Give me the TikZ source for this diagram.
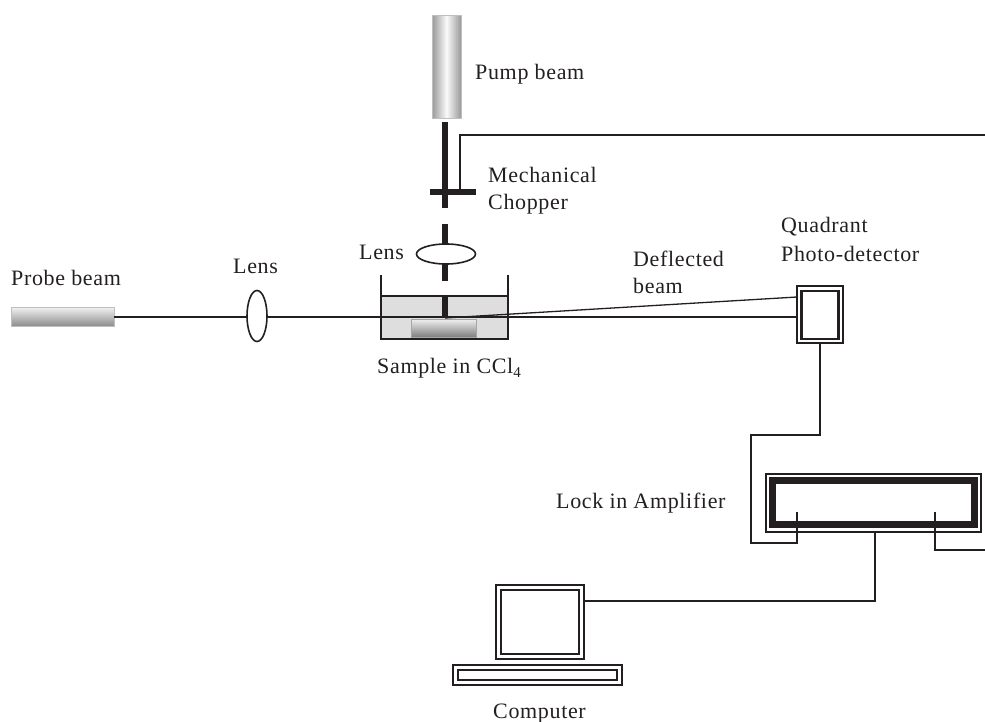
\documentclass[tikz,border=0pt]{standalone}
\usepackage{fontspec}
\setmainfont[LetterSpace=3]{Liberation Serif}
\usetikzlibrary{calc}
\definecolor{ink}{HTML}{231F20}
\tikzset{
  box/.style={rectangle,inner sep=0pt,outer sep=0pt,draw=ink,fill=white},
  wire/.style={draw=ink,line width=1.6pt},
  beam/.style={draw=ink,line width=5.5pt},
  lbl/.style={anchor=base west,inner sep=0pt,text=ink,font=\fontsize{22}{22}\selectfont},
  lensshape/.style={draw=ink,line width=1.6pt,fill=white,ellipse,inner sep=0pt,outer sep=0pt},
}
\usetikzlibrary{shapes.geometric}
\begin{document}
\begin{tikzpicture}[x=1pt,y=-1pt]
\useasboundingbox (0,0) rectangle (985,722);
% tank
\node[box,line width=1.5pt,fill=black!13,minimum width=127pt,minimum height=43pt] (tank) at (444.5,317.5) {};
\coordinate (wallL) at ($(tank.north west)+(0,-21)$);
\coordinate (wallR) at ($(tank.north east)+(0,-21)$);
\draw[wire] (wallL) -- (tank.north west);
\draw[wire] (wallR) -- (tank.north east);
\node[rectangle,inner sep=0pt,draw=black!35,line width=1pt,top color=black!6,bottom color=black!50,minimum width=65pt,minimum height=18pt] (sample) at (443.5,328) {};
% sources
\node[rectangle,inner sep=0pt,outer sep=0pt,draw=black!25,line width=1pt,top color=black!5,bottom color=black!45,minimum width=103pt,minimum height=19pt] (probe) at (62.5,316.5) {};
\node[rectangle,inner sep=0pt,outer sep=0pt,draw=black!25,line width=1pt,left color=black!40,right color=black!40,middle color=black!2,minimum width=29pt,minimum height=103pt] (pump) at (446.5,67.5) {};
% detector, amplifier, computer
\node[box,line width=2.5pt,minimum width=46pt,minimum height=57pt] (det) at (820,314.5) {};
\node[box,line width=2.5pt,minimum width=37pt,minimum height=48pt] (detin) at (820,315) {};
\node[box,line width=1.5pt,minimum width=215pt,minimum height=58pt] (lock) at (873.5,503) {};
\node[box,line width=7pt,minimum width=202.5pt,minimum height=43.5pt] (lockin) at (873.7,502.3) {};
\node[box,line width=2.5pt,minimum width=88pt,minimum height=74pt] (screen) at (540,622) {};
\node[box,line width=2.5pt,minimum width=78pt,minimum height=64pt] (screenin) at (540,622) {};
\node[box,line width=2.5pt,minimum width=169pt,minimum height=20pt] (keys) at (537.5,675) {};
\node[box,line width=2.5pt,minimum width=159pt,minimum height=10pt] (keysin) at (537.5,675) {};
% free ends and bends
\coordinate (hit) at (445,318);
\coordinate (detup) at (det.west |- 0,297);
\coordinate (beamtop) at (445,122);
\coordinate (chopL) at (430,192);
\coordinate (chopR) at (476,192);
\coordinate (chopW) at (460,192);
\coordinate (chopE) at (985,135);
\coordinate (lockpinL) at (797,512);
\coordinate (lockpinR) at (935,512);
\coordinate (rightE) at (985,550);
% probe path
\draw[wire,line width=2pt] (probe.east) -- (probe.east -| det.west);
\draw[wire,line width=1.3pt] (hit) -- (detup);
\node[lensshape,minimum width=20pt,minimum height=51pt] (lensA) at (257,316) {};
% pump path
\coordinate (gapA) at (445,208);
\coordinate (gapB) at (445,224);
\coordinate (gapC) at (445,281);
\coordinate (gapD) at (445,297);
\draw[beam] (beamtop) -- (gapA);
\draw[beam] (gapB) -- (gapC);
\draw[beam] (gapD) -- (hit);
\draw[beam] (chopL) -- (chopR);
\node[lensshape,minimum width=59pt,minimum height=20pt] (lensB) at (446,254) {};
\draw[wire] (chopW) |- (chopE);
% signal wires
\draw[wire] (det.south) |- (751,435) |- (797,543) -- (lockpinL);
\draw[wire] (lockpinR) |- (rightE);
\draw[wire] (lock.south -| 875,0) |- (screen.east |- 0,601);
% labels
\node[lbl] (t1) at (475,80) {Pump beam};
\node[lbl] (t2) at (488,183) {Mechanical};
\node[lbl] (t3) at (488,210) {Chopper};
\node[lbl] (t4) at (359,259) {Lens};
\node[lbl] (t5) at (11,285) {Probe beam};
\node[lbl] (t6) at (233,273) {Lens};
\node[lbl] (t7) at (377,373) {Sample in CCl\raisebox{-0.2em}{\fontsize{15}{15}\selectfont 4}};
\node[lbl] (t8) at (633,266) {Deflected};
\node[lbl] (t9) at (633,293) {beam};
\node[lbl] (t10) at (781,233) {Quadrant};
\node[lbl] (t11) at (781,261) {Photo-detector};
\node[lbl] (t12) at (556,508) {Lock in Amplifier};
\node[lbl] (t13) at (493,718) {Computer};
\end{tikzpicture}
\end{document}
